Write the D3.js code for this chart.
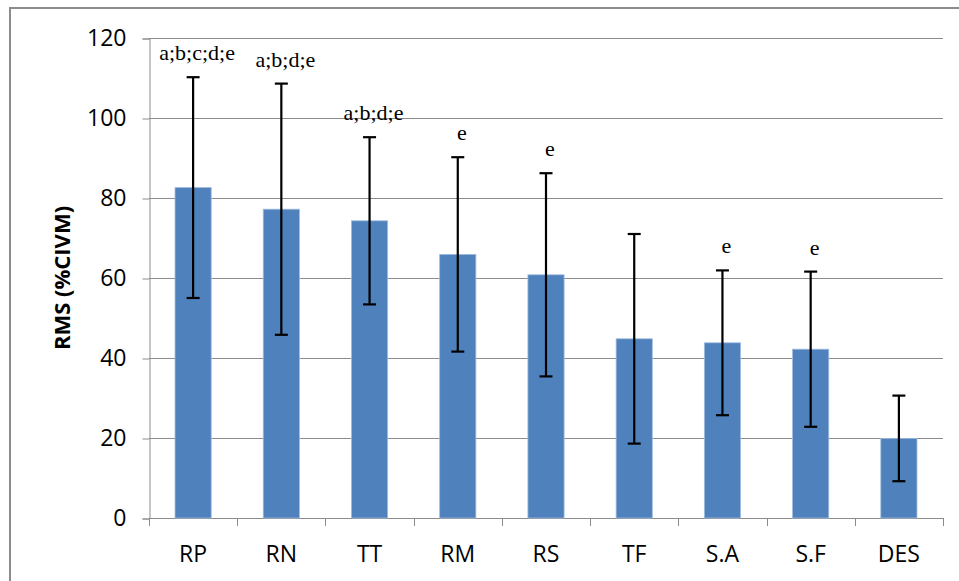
<!DOCTYPE html>
<html>
<head>
<meta charset="utf-8">
<script src="https://cdn.jsdelivr.net/npm/d3@7"></script>
<style>
    body { margin: 0; background: #fff; }
    svg { display: block; }
</style>
</head>
<body>
<div id="chart"></div>
<script>

// values
const groups = ["RP", "RN", "TT", "RM", "RS", "TF", "S.A", "S.F", "DES"];
const means = [82.6, 77.2, 74.3, 65.9, 60.8, 44.8, 43.8, 42.2, 19.9];
const errors = [27.6, 31.4, 20.9, 24.3, 25.4, 26.2, 18.1, 19.4, 10.7];
const letters = ["a;b;c;d;e", "a;b;d;e", "a;b;d;e", "e", "e", "", "e", "e", ""];
const yTicks = [0, 20, 40, 60, 80, 100, 120];

const width = 959;
const height = 581;
const margin = { top: 38, left: 149, right: 16, bottom: 63 };

const svg = d3.select("#chart")
    .append("svg")
    .attr("width", width)
    .attr("height", height);

// outer chart frame (runs off the right and bottom of the picture)
svg.append("rect")
    .attr("x", 10)
    .attr("y", 8)
    .attr("width", width + 20)
    .attr("height", height + 20)
    .attr("fill", "#fff")
    .attr("stroke", "#8c8c8c")
    .attr("stroke-width", 2);

const xScale = d3.scaleBand()
    .domain(groups)
    .range([margin.left, width - margin.right])
    .paddingInner(0.59)
    .paddingOuter(0.295);

const yScale = d3.scaleLinear()
    .domain([0, 120])
    .range([height - margin.bottom, margin.top]);

const plotRight = width - margin.right;
const plotBottom = height - margin.bottom;

// gridlines
svg.append("g")
    .selectAll("line")
    .data(yTicks.filter(function (d) { return d > 0; }))
    .enter()
    .append("line")
    .attr("x1", margin.left)
    .attr("x2", plotRight)
    .attr("y1", function (d) { return yScale(d) + 0.5; })
    .attr("y2", function (d) { return yScale(d) + 0.5; })
    .attr("stroke", "#8c8c8c")
    .attr("stroke-width", 1);

/*
AXES
*/
const yAxis = svg.append("g")
    .attr("transform", `translate(${margin.left + 0.5},0.5)`)
    .call(d3.axisLeft(yScale).tickValues(yTicks).tickSize(7).tickPadding(16));

yAxis.select(".domain").attr("stroke", "#8c8c8c");
yAxis.selectAll(".tick line").attr("stroke", "#8c8c8c");
yAxis.selectAll("text")
    .attr("fill", "#000")
    .style("font-family", "'Open Sans', sans-serif")
    .style("font-size", "23px");

// x axis: ticks sit on category boundaries
const step = xScale.step();
const boundaries = d3.range(groups.length + 1).map(function (i) { return margin.left + i * step; });

const xAxis = svg.append("g");
xAxis.append("line")
    .attr("x1", margin.left)
    .attr("x2", plotRight)
    .attr("y1", plotBottom + 0.5)
    .attr("y2", plotBottom + 0.5)
    .attr("stroke", "#8c8c8c");
xAxis.selectAll(".xtick")
    .data(boundaries)
    .enter()
    .append("line")
    .attr("class", "xtick")
    .attr("x1", function (d) { return Math.round(d) + 0.5; })
    .attr("x2", function (d) { return Math.round(d) + 0.5; })
    .attr("y1", plotBottom)
    .attr("y2", plotBottom + 8)
    .attr("stroke", "#8c8c8c");
xAxis.selectAll(".xlabel")
    .data(groups)
    .enter()
    .append("text")
    .attr("class", "xlabel")
    .attr("x", function (d) { return xScale(d) + xScale.bandwidth() / 2; })
    .attr("y", plotBottom + 44)
    .attr("text-anchor", "middle")
    .style("font-family", "'Open Sans', sans-serif")
    .style("font-size", "23px")
    .attr("fill", "#000")
    .text(function (d) { return d; });

/*
BARS
*/
svg.selectAll(".bar")
    .data(groups)
    .enter()
    .append("rect")
    .attr("class", "bar")
    .attr("x", function (d) { return xScale(d); })
    .attr("y", function (d, i) { return yScale(means[i]); })
    .attr("width", xScale.bandwidth())
    .attr("height", function (d, i) { return plotBottom - yScale(means[i]); })
    .attr("fill", "#4f81bd")
    .attr("stroke", "#9fbbe0")
    .attr("stroke-width", 0.8);

/*
ERROR BARS
*/
const errG = svg.append("g");
groups.forEach(function (g, i) {
    const cx = xScale(g) + xScale.bandwidth() / 2;
    const hi = yScale(means[i] + errors[i]);
    const lo = yScale(means[i] - errors[i]);
    errG.append("line")
        .attr("x1", cx).attr("x2", cx)
        .attr("y1", hi).attr("y2", lo)
        .attr("stroke", "#000").attr("stroke-width", 2.2);
    [hi, lo].forEach(function (y) {
        errG.append("line")
            .attr("x1", cx - 6.5).attr("x2", cx + 6.5)
            .attr("y1", y).attr("y2", y)
            .attr("stroke", "#000").attr("stroke-width", 2.2);
    });
});

// significance letters above the error bars
svg.selectAll(".sig")
    .data(groups)
    .enter()
    .append("text")
    .attr("class", "sig")
    .attr("x", function (d) { return xScale(d) + xScale.bandwidth() / 2 + 4; })
    .attr("y", function (d, i) { return yScale(means[i] + errors[i]) - 17; })
    .attr("text-anchor", "middle")
    .style("font-family", "'Liberation Serif', 'Times New Roman', serif")
    .style("font-size", "22px")
    .attr("fill", "#000")
    .text(function (d, i) { return letters[i]; });

// y axis title
svg.append("text")
    .attr("transform", `translate(70,${(margin.top + plotBottom) / 2}) rotate(-90)`)
    .attr("text-anchor", "middle")
    .style("font-family", "'Open Sans', sans-serif")
    .style("font-size", "22px")
    .style("font-weight", "bold")
    .attr("fill", "#000")
    .text("RMS (%CIVM)");

</script>
</body>
</html>
